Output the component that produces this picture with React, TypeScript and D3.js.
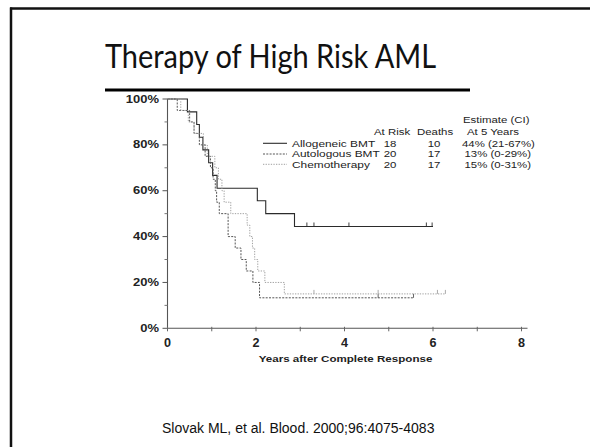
import React from 'react';
import * as d3 from 'd3';

const xTickLabels = [0, 2, 4, 6, 8];
const xMinorTicks = [0, 1, 2, 3, 4, 5, 6, 7, 8];
const yTickLabels = [0, 20, 40, 60, 80, 100];
const yMinorTicks = [10, 30, 50, 70, 90];

const seriesNames = ['Allogeneic BMT', 'Autologous BMT', 'Chemotherapy'];
const atRisk = [18, 20, 20];
const deaths = [10, 17, 17];
const estimates = ['44% (21-67%)', '13% (0-29%)', '15% (0-31%)'];

const alloTimes = [0, 0.45, 0.66, 0.72, 0.8, 0.93, 1.02, 1.12, 2.03, 2.22, 2.87, 6.0];
const alloSurv = [100, 94.4, 88.9, 83.3, 77.8, 72.2, 66.7, 61.1, 55.6, 50, 44.4, 44.4];
const alloCensor = [3.15, 3.31, 4.1, 5.85, 5.98];

const autoTimes = [0, 0.22, 0.5, 0.6, 0.72, 0.85, 0.97, 1.03, 1.08, 1.11, 1.17, 1.37, 1.53, 1.66, 1.78, 1.93, 2.08, 5.56];
const autoSurv = [100, 95, 90, 85, 80, 75, 70, 65, 60, 55, 50, 40, 35, 30, 25, 20, 13.3, 13.3];
const autoCensor = [4.76, 5.56];

const chemoTimes = [0, 0.3, 0.47, 0.6, 0.81, 0.9, 1.07, 1.15, 1.23, 1.28, 1.43, 1.8, 1.86, 1.92, 1.97, 2.04, 2.2, 2.64, 6.28];
const chemoSurv = [100, 95, 90, 85, 80, 75, 70, 65, 60, 55, 50, 45, 40, 35, 30, 25, 20, 15, 15];
const chemoCensor = [3.31, 4.76, 6.1, 6.28];

const styles = [
  { stroke: '#2b2b2b', dash: 'none', width: 1.1 },
  { stroke: '#555', dash: '2,1.3', width: 1 },
  { stroke: '#a0a0a0', dash: '1.3,1.3', width: 1 },
];

const x = d3.scaleLinear().domain([0, 8]).range([167.5, 521.5]);
const y = d3.scaleLinear().domain([0, 100]).range([328.3, 99]);

const line = d3
  .line<[number, number]>()
  .x((d) => x(d[0]))
  .y((d) => y(d[1]))
  .curve(d3.curveStepAfter);

const STxt = ({ x0, y0, sx = 1.2, anchor = 'start', size = 9.5, weight = 'normal', children }: any) => (
  <g transform={`translate(${x0},${y0}) scale(${sx},1)`}>
    <text textAnchor={anchor} fontSize={size} fontWeight={weight} fontFamily="'Liberation Sans', Arial, sans-serif" fill="#222">
      {children}
    </text>
  </g>
);

export default function App() {
  const series = [
    { t: alloTimes, s: alloSurv, c: alloCensor },
    { t: autoTimes, s: autoSurv, c: autoCensor },
    { t: chemoTimes, s: chemoSurv, c: chemoCensor },
  ];
  const survAt = (t: number[], s: number[], time: number) => {
    let v = s[0];
    for (let i = 0; i < t.length; i++) if (t[i] <= time) v = s[i];
    return v;
  };
  const rowY = [146.5, 157, 167.5];
  const lineY = [143.3, 154, 164.3];
  const estX = [462, 464.5, 464.5];

  return (
    <svg width={590} height={447} style={{ position: 'absolute', left: 0, top: 0, background: '#fff' }}>
      {/* slide frame */}
      <line x1={10} y1={8.5} x2={590} y2={8.5} stroke="#111" strokeWidth={2.5} />
      <line x1={11} y1={7.5} x2={11} y2={447} stroke="#111" strokeWidth={2.5} />
      {/* title */}
      <text x={105} y={68.3} fontSize={32} fontFamily="Lato, 'Open Sans', sans-serif" fill="#111" textLength={331} lengthAdjust="spacingAndGlyphs">
        Therapy of High Risk AML
      </text>
      <line x1={105} y1={90} x2={470} y2={90} stroke="#000" strokeWidth={3} />

      {/* axes */}
      <line x1={x(0)} y1={y(100)} x2={x(0)} y2={y(0)} stroke="#555" strokeWidth={1.1} />
      <line x1={x(0)} y1={y(0)} x2={x(8) + 6} y2={y(0)} stroke="#555" strokeWidth={1.1} />
      {yTickLabels.map((v) => (
        <g key={'yt' + v}>
          <line x1={x(0) - 5} x2={x(0)} y1={y(v)} y2={y(v)} stroke="#555" />
          <STxt x0={x(0) - 8.5} y0={y(v) + 3.6} anchor="end" size={10} weight="bold" sx={1.3}>
            {v + '%'}
          </STxt>
        </g>
      ))}
      {yMinorTicks.map((v) => (
        <line key={'ym' + v} x1={x(0) - 3} x2={x(0)} y1={y(v)} y2={y(v)} stroke="#777" />
      ))}
      {xMinorTicks.map((v) => (
        <line key={'xm' + v} x1={x(v)} x2={x(v)} y1={y(0) - 1.5} y2={y(0) + 3} stroke="#666" />
      ))}
      {xTickLabels.map((v) => (
        <STxt key={'xt' + v} x0={x(v)} y0={347.3} anchor="middle" size={12} weight="bold" sx={1.05}>
          {v}
        </STxt>
      ))}
      <STxt x0={345.5} y0={361.5} anchor="middle" size={9.5} weight="bold" sx={1.22}>
        Years after Complete Response
      </STxt>

      {/* curves */}
      {series.map((se, i) => (
        <g key={'s' + i}>
          <path
            d={line(se.t.map((t, k) => [t, se.s[k]] as [number, number])) || ''}
            fill="none"
            stroke={styles[i].stroke}
            strokeWidth={styles[i].width}
            strokeDasharray={styles[i].dash}
          />
          {se.c.map((ct, k) => (
            <line
              key={k}
              x1={x(ct)}
              x2={x(ct)}
              y1={y(survAt(se.t, se.s, ct))}
              y2={y(survAt(se.t, se.s, ct)) - 4}
              stroke={styles[i].stroke}
              strokeWidth={0.9}
            />
          ))}
        </g>
      ))}

      {/* legend */}
      <STxt x0={463} y0={122.5}>Estimate (CI)</STxt>
      <STxt x0={374} y0={134.5}>At Risk</STxt>
      <STxt x0={417} y0={134.5}>Deaths</STxt>
      <STxt x0={467} y0={134.5}>At 5 Years</STxt>
      {seriesNames.map((n, i) => (
        <g key={'lg' + i}>
          <line x1={263} x2={287} y1={lineY[i]} y2={lineY[i]} stroke={styles[i].stroke} strokeWidth={styles[i].width} strokeDasharray={styles[i].dash} />
          <STxt x0={292} y0={rowY[i]} sx={1.25}>{n}</STxt>
          <STxt x0={390} y0={rowY[i]} anchor="middle">{atRisk[i]}</STxt>
          <STxt x0={434} y0={rowY[i]} anchor="middle">{deaths[i]}</STxt>
          <STxt x0={estX[i]} y0={rowY[i]}>{estimates[i]}</STxt>
        </g>
      ))}

      {/* citation */}
      <text x={162} y={433.3} fontSize={14} fontFamily="'Liberation Sans', Arial, sans-serif" fill="#111">
        Slovak ML, et al. Blood. 2000;96:4075-4083
      </text>
    </svg>
  );
}
